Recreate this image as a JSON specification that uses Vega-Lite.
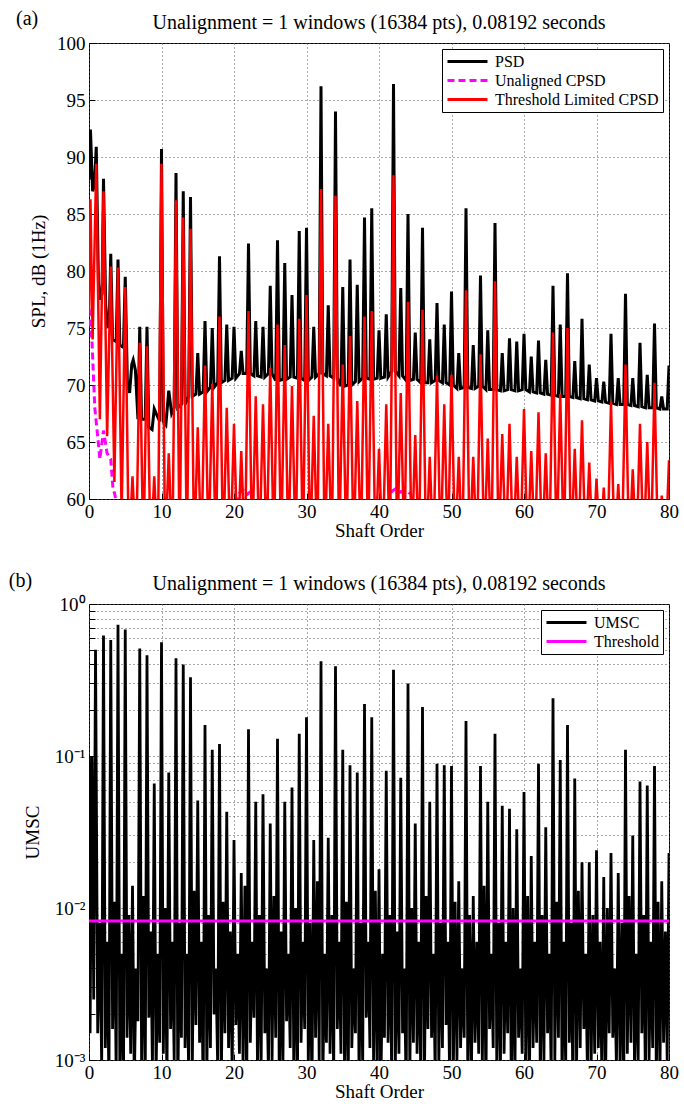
{
  "$schema": "https://vega.github.io/schema/vega-lite/v6.json",
  "background": "white",
  "padding": {"left": 8, "top": 8, "right": 5, "bottom": 2},
  "spacing": 29,
  "config": {
    "font": "Liberation Serif",
    "view": {"stroke": "black", "strokeWidth": 1},
    "title": {"font": "Liberation Serif", "fontSize": 20, "fontWeight": "normal", "color": "black"},
    "axis": {
      "labelFont": "Liberation Serif", "titleFont": "Liberation Serif",
      "labelFontSize": 19, "titleFontSize": 19, "titleFontWeight": "normal",
      "labelColor": "black", "titleColor": "black", "labelFlush": false,
      "domain": false, "tickColor": "black", "tickSize": -6, "labelPadding": 10,
      "grid": true, "gridDash": [1, 3], "gridColor": "#555", "gridWidth": 1
    },
    "axisX": {"labelPadding": 9, "titlePadding": 0},
    "legend": {"labelFont": "Liberation Serif", "labelColor": "black", "labelLimit": 400}
  },
  "resolve": {"scale": {"color": "independent"}, "legend": {"color": "independent"}},
  "datasets": {
    "psd": [
      {"x":0,"y":88},{"x":0.2,"y":92.4},{"x":0.5,"y":87},{"x":0.75,"y":87.5},{"x":1,"y":90.9},{"x":1.3,"y":79},{"x":1.55,"y":77.5},{"x":1.8,"y":78},{"x":2,"y":88.1},{"x":2.3,"y":77},{"x":2.6,"y":75},{"x":2.8,"y":75.5},{"x":3,"y":81.5},{"x":3.25,"y":74},{"x":3.75,"y":73.8},{"x":4,"y":81},{"x":4.25,"y":73.5},{"x":4.75,"y":73.3},{"x":5,"y":79.5},{"x":5.3,"y":70},{"x":5.6,"y":69.3},{"x":5.9,"y":71.8},{"x":6.1,"y":72.2},{"x":6.4,"y":71.3},{"x":6.75,"y":67},{"x":7,"y":75.1},{"x":7.25,"y":67},{"x":7.75,"y":67},{"x":8,"y":75.1},{"x":8.25,"y":66.3},{"x":8.7,"y":66.1},{"x":9,"y":67.9},{"x":9.4,"y":67.3},{"x":9.75,"y":66.8},{"x":10,"y":90.7},{"x":10.25,"y":66.8},{"x":10.6,"y":66.5},{"x":11,"y":69.5},{"x":11.4,"y":67.5},
      {"x":11.75,"y":68},{"x":12,"y":88.6},{"x":12.25,"y":68},
      {"x":12.75,"y":68.3},{"x":13,"y":87},{"x":13.25,"y":68.3},
      {"x":13.75,"y":69},{"x":14,"y":86.5},{"x":14.25,"y":69},
      {"x":14.75,"y":69.2},{"x":15,"y":72.8},{"x":15.25,"y":69.2},
      {"x":15.75,"y":69.4},{"x":16,"y":75.6},{"x":16.25,"y":69.4},
      {"x":16.75,"y":69.8},{"x":17,"y":75},{"x":17.25,"y":69.8},
      {"x":17.75,"y":70.2},{"x":18,"y":81.3},{"x":18.25,"y":70.2},
      {"x":18.75,"y":70.4},{"x":19,"y":75.3},{"x":19.25,"y":70.4},
      {"x":19.75,"y":70.6},{"x":20,"y":75.1},{"x":20.25,"y":70.6},
      {"x":20.75,"y":71},{"x":21,"y":73},{"x":21.25,"y":71},
      {"x":21.75,"y":71},{"x":22,"y":82.4},{"x":22.25,"y":71},
      {"x":22.75,"y":70.8},{"x":23,"y":75.6},{"x":23.25,"y":70.8},
      {"x":23.75,"y":70.7},{"x":24,"y":75.1},{"x":24.25,"y":70.7},
      {"x":24.75,"y":71},{"x":25,"y":78.7},{"x":25.25,"y":71},
      {"x":25.75,"y":70.4},{"x":26,"y":82.7},{"x":26.25,"y":70.4},
      {"x":26.75,"y":70.5},{"x":27,"y":80.7},{"x":27.25,"y":70.5},
      {"x":27.75,"y":70.7},{"x":28,"y":77.9},{"x":28.25,"y":70.7},
      {"x":28.75,"y":70.6},{"x":29,"y":83.5},{"x":29.25,"y":70.6},
      {"x":29.75,"y":70.4},{"x":30,"y":83.8},{"x":30.25,"y":70.4},
      {"x":30.75,"y":70.7},{"x":31,"y":75.1},{"x":31.25,"y":70.7},
      {"x":31.75,"y":71},{"x":32,"y":96.2},{"x":32.25,"y":71},
      {"x":32.75,"y":70.8},{"x":33,"y":77},{"x":33.25,"y":70.8},
      {"x":33.75,"y":70.6},{"x":34,"y":94},{"x":34.25,"y":70.6},
      {"x":34.75,"y":69.9},{"x":35,"y":78.6},{"x":35.25,"y":69.9},
      {"x":35.75,"y":70},{"x":36,"y":81},{"x":36.25,"y":70},
      {"x":36.75,"y":70.3},{"x":37,"y":78.8},{"x":37.25,"y":70.3},
      {"x":37.75,"y":70.6},{"x":38,"y":84.7},{"x":38.25,"y":70.6},
      {"x":38.75,"y":70.5},{"x":39,"y":85.5},{"x":39.25,"y":70.5},
      {"x":39.75,"y":70.6},{"x":40,"y":74.8},{"x":40.25,"y":70.6},
      {"x":40.75,"y":70.7},{"x":41,"y":76.2},{"x":41.25,"y":70.7},
      {"x":41.75,"y":71.2},{"x":42,"y":96.4},{"x":42.25,"y":71.2},
      {"x":42.75,"y":70.8},{"x":43,"y":78.5},{"x":43.25,"y":70.8},
      {"x":43.75,"y":70.4},{"x":44,"y":85},{"x":44.25,"y":70.4},
      {"x":44.75,"y":70.5},{"x":45,"y":74.6},{"x":45.25,"y":70.5},
      {"x":45.75,"y":70.2},{"x":46,"y":83.8},{"x":46.25,"y":70.2},
      {"x":46.75,"y":70.2},{"x":47,"y":74},{"x":47.25,"y":70.2},
      {"x":47.75,"y":70.4},{"x":48,"y":77.2},{"x":48.25,"y":70.4},
      {"x":48.75,"y":70.2},{"x":49,"y":75.3},{"x":49.25,"y":70.2},
      {"x":49.75,"y":70},{"x":50,"y":78.2},{"x":50.25,"y":70},
      {"x":50.75,"y":69.7},{"x":51,"y":72.8},{"x":51.25,"y":69.7},
      {"x":51.75,"y":69.8},{"x":52,"y":85.5},{"x":52.25,"y":69.8},
      {"x":52.75,"y":69.7},{"x":53,"y":73.5},{"x":53.25,"y":69.7},
      {"x":53.75,"y":69.9},{"x":54,"y":79.6},{"x":54.25,"y":69.9},
      {"x":54.75,"y":69.6},{"x":55,"y":74.8},{"x":55.25,"y":69.6},
      {"x":55.75,"y":69.6},{"x":56,"y":84.2},{"x":56.25,"y":69.6},
      {"x":56.75,"y":69.5},{"x":57,"y":72.8},{"x":57.25,"y":69.5},
      {"x":57.75,"y":69.6},{"x":58,"y":74.1},{"x":58.25,"y":69.6},
      {"x":58.75,"y":69.5},{"x":59,"y":73.8},{"x":59.25,"y":69.5},
      {"x":59.75,"y":69.6},{"x":60,"y":74.5},{"x":60.25,"y":69.6},
      {"x":60.75,"y":69.4},{"x":61,"y":72.5},{"x":61.25,"y":69.4},
      {"x":61.75,"y":69.3},{"x":62,"y":73.9},{"x":62.25,"y":69.3},
      {"x":62.75,"y":69.2},{"x":63,"y":72.2},{"x":63.25,"y":69.2},
      {"x":63.75,"y":69.1},{"x":64,"y":78.7},{"x":64.25,"y":69.1},
      {"x":64.75,"y":69},{"x":65,"y":75.3},{"x":65.25,"y":69},
      {"x":65.75,"y":69},{"x":66,"y":79.8},{"x":66.25,"y":69},
      {"x":66.75,"y":68.9},{"x":67,"y":72.1},{"x":67.25,"y":68.9},
      {"x":67.75,"y":68.8},{"x":68,"y":75.8},{"x":68.25,"y":68.8},
      {"x":68.75,"y":68.7},{"x":69,"y":71.8},{"x":69.25,"y":68.7},
      {"x":69.75,"y":68.6},{"x":70,"y":70.6},{"x":70.25,"y":68.6},
      {"x":70.75,"y":68.5},{"x":71,"y":70.3},{"x":71.25,"y":68.5},
      {"x":71.75,"y":68.4},{"x":72,"y":74.5},{"x":72.25,"y":68.4},
      {"x":72.75,"y":68.3},{"x":73,"y":70.6},{"x":73.25,"y":68.3},
      {"x":73.75,"y":68.3},{"x":74,"y":78},{"x":74.25,"y":68.3},
      {"x":74.75,"y":68.2},{"x":75,"y":70.6},{"x":75.25,"y":68.2},
      {"x":75.75,"y":68.1},{"x":76,"y":73.7},{"x":76.25,"y":68.1},
      {"x":76.75,"y":68},{"x":77,"y":70.9},{"x":77.25,"y":68},
      {"x":77.75,"y":68},{"x":78,"y":75.4},{"x":78.25,"y":68},
      {"x":78.75,"y":67.9},{"x":79,"y":69},{"x":79.25,"y":67.9},
      {"x":79.75,"y":67.9},{"x":80,"y":71.7}
    ],
    "ucpsd": [
      {"x":0,"y":76.7},{"x":0.4,"y":74},{"x":0.8,"y":68},{"x":1.2,"y":65.5},{"x":1.5,"y":63.5},{"x":2,"y":66},{"x":2.5,"y":64},{"x":3,"y":63.5},{"x":3.3,"y":61},{"x":3.6,"y":60.3},{"x":4,"y":57},
      {"x":20,"y":57},{"x":20.6,"y":60.4},{"x":21.2,"y":60.8},{"x":21.8,"y":60.4},{"x":22.4,"y":60.7},{"x":23,"y":57},
      {"x":41,"y":57},{"x":41.6,"y":60.6},{"x":42.3,"y":60.9},{"x":43,"y":60.6},{"x":43.7,"y":60.8},{"x":44.4,"y":60.4},{"x":45,"y":57},{"x":80,"y":57}
    ],
    "cpsd": [
      {"x":0,"y":76},{"x":0.2,"y":86.3},{"x":0.5,"y":74},{"x":1,"y":89.4},{"x":1.5,"y":67},{"x":2,"y":87},{"x":2.5,"y":65.5},{"x":3,"y":80.4},{"x":3.5,"y":61.5},{"x":4,"y":80.3},{"x":4.5,"y":58.5},{"x":5,"y":78.6},{"x":5.5,"y":55},
      {"x":6,"y":62},{"x":6.5,"y":55},{"x":7,"y":73.7},{"x":7.5,"y":55},{"x":8,"y":73.4},{"x":8.5,"y":55},{"x":9,"y":62},{"x":9.5,"y":55},
      {"x":10,"y":89.4},{"x":10.5,"y":55},{"x":11,"y":64},{"x":11.5,"y":55},{"x":12,"y":86.2},{"x":12.5,"y":55},{"x":13,"y":84.7},{"x":13.5,"y":55},{"x":14,"y":83.7},{"x":14.5,"y":55},
      {"x":15,"y":66.3},{"x":15.5,"y":55},{"x":16,"y":71.7},{"x":16.5,"y":55},{"x":17,"y":70.1},{"x":17.5,"y":55},{"x":18,"y":76},{"x":18.5,"y":55},{"x":19,"y":68},{"x":19.5,"y":55},
      {"x":20,"y":66.6},{"x":20.5,"y":55},{"x":21,"y":64.2},{"x":21.5,"y":55},{"x":22,"y":76.5},{"x":22.5,"y":55},{"x":23,"y":69},{"x":23.5,"y":55},{"x":24,"y":68.3},{"x":24.5,"y":55},
      {"x":25,"y":71.5},{"x":25.5,"y":55},{"x":26,"y":75.3},{"x":26.5,"y":55},{"x":27,"y":73.5},{"x":27.5,"y":55},{"x":28,"y":69.9},{"x":28.5,"y":55},{"x":29,"y":75.8},{"x":29.5,"y":55},
      {"x":30,"y":77.9},{"x":30.5,"y":55},{"x":31,"y":67.3},{"x":31.5,"y":55},{"x":32,"y":87.2},{"x":32.5,"y":55},{"x":33,"y":66.6},{"x":33.5,"y":55},{"x":34,"y":86.6},{"x":34.5,"y":55},
      {"x":35,"y":71.8},{"x":35.5,"y":55},{"x":36,"y":74.3},{"x":36.5,"y":55},{"x":37,"y":68.6},{"x":37.5,"y":55},{"x":38,"y":76},{"x":38.5,"y":55},{"x":39,"y":76.5},{"x":39.5,"y":55},
      {"x":40,"y":64.4},{"x":40.5,"y":55},{"x":41,"y":68.3},{"x":41.5,"y":55},{"x":42,"y":88.4},{"x":42.5,"y":55},{"x":43,"y":69.3},{"x":43.5,"y":55},{"x":44,"y":77.3},{"x":44.5,"y":55},
      {"x":45,"y":65.6},{"x":45.5,"y":55},{"x":46,"y":76.6},{"x":46.5,"y":55},{"x":47,"y":63.7},{"x":47.5,"y":55},{"x":48,"y":70.8},{"x":48.5,"y":55},{"x":49,"y":68.3},{"x":49.5,"y":55},
      {"x":50,"y":70.9},{"x":50.5,"y":55},{"x":51,"y":63.7},{"x":51.5,"y":55},{"x":52,"y":78.3},{"x":52.5,"y":55},{"x":53,"y":63.7},{"x":53.5,"y":55},{"x":54,"y":72.7},{"x":54.5,"y":55},
      {"x":55,"y":65.3},{"x":55.5,"y":55},{"x":56,"y":79.1},{"x":56.5,"y":55},{"x":57,"y":65.7},{"x":57.5,"y":55},{"x":58,"y":66.6},{"x":58.5,"y":55},{"x":59,"y":63.7},{"x":59.5,"y":55},
      {"x":60,"y":67.9},{"x":60.5,"y":55},{"x":61,"y":64.2},{"x":61.5,"y":55},{"x":62,"y":67.6},{"x":62.5,"y":55},{"x":63,"y":64},{"x":63.5,"y":55},{"x":64,"y":74.6},{"x":64.5,"y":55},
      {"x":65,"y":69.2},{"x":65.5,"y":55},{"x":66,"y":75},{"x":66.5,"y":55},{"x":67,"y":64.4},{"x":67.5,"y":55},{"x":68,"y":66.9},{"x":68.5,"y":55},{"x":69,"y":63.2},{"x":69.5,"y":55},
      {"x":70,"y":61.8},{"x":70.5,"y":55},{"x":71,"y":61},{"x":71.5,"y":55},{"x":72,"y":68.5},{"x":72.5,"y":55},{"x":73,"y":61.3},{"x":73.5,"y":55},{"x":74,"y":71.8},{"x":74.5,"y":55},
      {"x":75,"y":62.6},{"x":75.5,"y":55},{"x":76,"y":66.6},{"x":76.5,"y":55},{"x":77,"y":65},{"x":77.5,"y":55},{"x":78,"y":70.2},{"x":78.5,"y":55},{"x":79,"y":60.3},{"x":79.5,"y":55},{"x":80,"y":63.4}
    ],
    "umsc": [
      {"x":0,"y":0.1},{"x":0.15,"y":0.0015},{"x":0.4,"y":0.1},{"x":0.65,"y":0.0025},{"x":0.9,"y":0.5},{"x":1.2,"y":0.0015},{"x":1.5,"y":0.008},{"x":1.75,"y":0.0009},
      {"x":2,"y":0.62},{"x":2.25,"y":0.0012},{"x":2.5,"y":0.006},{"x":2.75,"y":0.0007},
      {"x":3,"y":0.58},{"x":3.25,"y":0.0016},{"x":3.5,"y":0.011},{"x":3.75,"y":0.0008},
      {"x":4,"y":0.73},{"x":4.25,"y":0.0009},{"x":4.5,"y":0.005},{"x":4.75,"y":0.0006},
      {"x":5,"y":0.68},{"x":5.25,"y":0.0014},{"x":5.5,"y":0.009},{"x":5.75,"y":0.0011},
      {"x":6,"y":0.014},{"x":6.25,"y":0.0007},{"x":6.5,"y":0.004},{"x":6.75,"y":0.0018},
      {"x":7,"y":0.51},{"x":7.25,"y":0.001},{"x":7.5,"y":0.012},{"x":7.75,"y":0.0006},
      {"x":8,"y":0.46},{"x":8.25,"y":0.0019},{"x":8.5,"y":0.007},{"x":8.75,"y":0.0009},
      {"x":9,"y":0.066},{"x":9.25,"y":0.0008},{"x":9.5,"y":0.005},{"x":9.75,"y":0.0013},
      {"x":10,"y":0.56},{"x":10.25,"y":0.0011},{"x":10.5,"y":0.01},{"x":10.75,"y":0.0007},
      {"x":11,"y":0.078},{"x":11.25,"y":0.0016},{"x":11.5,"y":0.006},{"x":11.75,"y":0.001},
      {"x":12,"y":0.44},{"x":12.25,"y":0.0006},{"x":12.5,"y":0.008},{"x":12.75,"y":0.0014},
      {"x":13,"y":0.4},{"x":13.25,"y":0.0012},{"x":13.5,"y":0.005},{"x":13.75,"y":0.0008},
      {"x":14,"y":0.33},{"x":14.25,"y":0.0009},{"x":14.5,"y":0.013},{"x":14.75,"y":0.0017},
      {"x":15,"y":0.051},{"x":15.25,"y":0.0013},{"x":15.5,"y":0.006},{"x":15.75,"y":0.0006},
      {"x":16,"y":0.16},{"x":16.25,"y":0.0008},{"x":16.5,"y":0.009},{"x":16.75,"y":0.0012},
      {"x":17,"y":0.11},{"x":17.25,"y":0.002},{"x":17.5,"y":0.004},{"x":17.75,"y":0.0009},
      {"x":18,"y":0.12},{"x":18.25,"y":0.0007},{"x":18.5,"y":0.011},{"x":18.75,"y":0.0015},
      {"x":19,"y":0.043},{"x":19.25,"y":0.0012},{"x":19.5,"y":0.007},{"x":19.75,"y":0.0008},
      {"x":20,"y":0.028},{"x":20.25,"y":0.0017},{"x":20.5,"y":0.005},{"x":20.75,"y":0.0011},
      {"x":21,"y":0.017},{"x":21.25,"y":0.0009},{"x":21.5,"y":0.014},{"x":21.75,"y":0.0006},
      {"x":22,"y":0.15},{"x":22.25,"y":0.0013},{"x":22.5,"y":0.006},{"x":22.75,"y":0.0019},
      {"x":23,"y":0.05},{"x":23.25,"y":0.0007},{"x":23.5,"y":0.009},{"x":23.75,"y":0.001},
      {"x":24,"y":0.056},{"x":24.25,"y":0.0015},{"x":24.5,"y":0.004},{"x":24.75,"y":0.0008},
      {"x":25,"y":0.036},{"x":25.25,"y":0.001},{"x":25.5,"y":0.012},{"x":25.75,"y":0.0014},
      {"x":26,"y":0.13},{"x":26.25,"y":0.0006},{"x":26.5,"y":0.007},{"x":26.75,"y":0.0009},
      {"x":27,"y":0.05},{"x":27.25,"y":0.0018},{"x":27.5,"y":0.005},{"x":27.75,"y":0.0012},
      {"x":28,"y":0.062},{"x":28.25,"y":0.0008},{"x":28.5,"y":0.01},{"x":28.75,"y":0.0007},
      {"x":29,"y":0.14},{"x":29.25,"y":0.0013},{"x":29.5,"y":0.006},{"x":29.75,"y":0.0016},
      {"x":30,"y":0.18},{"x":30.25,"y":0.0009},{"x":30.5,"y":0.008},{"x":30.75,"y":0.0006},
      {"x":31,"y":0.028},{"x":31.25,"y":0.0014},{"x":31.5,"y":0.015},{"x":31.75,"y":0.001},
      {"x":32,"y":0.42},{"x":32.25,"y":0.0007},{"x":32.5,"y":0.005},{"x":32.75,"y":0.0013},
      {"x":33,"y":0.029},{"x":33.25,"y":0.0011},{"x":33.5,"y":0.009},{"x":33.75,"y":0.0008},
      {"x":34,"y":0.39},{"x":34.25,"y":0.0016},{"x":34.5,"y":0.006},{"x":34.75,"y":0.0011},
      {"x":35,"y":0.11},{"x":35.25,"y":0.0008},{"x":35.5,"y":0.011},{"x":35.75,"y":0.0006},
      {"x":36,"y":0.087},{"x":36.25,"y":0.0012},{"x":36.5,"y":0.004},{"x":36.75,"y":0.0015},
      {"x":37,"y":0.078},{"x":37.25,"y":0.0007},{"x":37.5,"y":0.008},{"x":37.75,"y":0.0009},
      {"x":38,"y":0.22},{"x":38.25,"y":0.0019},{"x":38.5,"y":0.006},{"x":38.75,"y":0.0012},
      {"x":39,"y":0.18},{"x":39.25,"y":0.001},{"x":39.5,"y":0.013},{"x":39.75,"y":0.0007},
      {"x":40,"y":0.018},{"x":40.25,"y":0.0006},{"x":40.5,"y":0.005},{"x":40.75,"y":0.0014},
      {"x":41,"y":0.08},{"x":41.25,"y":0.0013},{"x":41.5,"y":0.009},{"x":41.75,"y":0.0008},
      {"x":42,"y":0.37},{"x":42.25,"y":0.0009},{"x":42.5,"y":0.007},{"x":42.75,"y":0.0011},
      {"x":43,"y":0.072},{"x":43.25,"y":0.0015},{"x":43.5,"y":0.004},{"x":43.75,"y":0.0006},
      {"x":44,"y":0.3},{"x":44.25,"y":0.0008},{"x":44.5,"y":0.01},{"x":44.75,"y":0.0013},
      {"x":45,"y":0.036},{"x":45.25,"y":0.0011},{"x":45.5,"y":0.006},{"x":45.75,"y":0.0009},
      {"x":46,"y":0.21},{"x":46.25,"y":0.0006},{"x":46.5,"y":0.012},{"x":46.75,"y":0.0016},
      {"x":47,"y":0.05},{"x":47.25,"y":0.0014},{"x":47.5,"y":0.005},{"x":47.75,"y":0.0008},
      {"x":48,"y":0.089},{"x":48.25,"y":0.0009},{"x":48.5,"y":0.008},{"x":48.75,"y":0.0012},
      {"x":49,"y":0.087},{"x":49.25,"y":0.0017},{"x":49.5,"y":0.006},{"x":49.75,"y":0.0007},
      {"x":50,"y":0.086},{"x":50.25,"y":0.0008},{"x":50.5,"y":0.011},{"x":50.75,"y":0.001},
      {"x":51,"y":0.015},{"x":51.25,"y":0.0012},{"x":51.5,"y":0.004},{"x":51.75,"y":0.0014},
      {"x":52,"y":0.17},{"x":52.25,"y":0.0007},{"x":52.5,"y":0.009},{"x":52.75,"y":0.0008},
      {"x":53,"y":0.012},{"x":53.25,"y":0.0013},{"x":53.5,"y":0.006},{"x":53.75,"y":0.0011},
      {"x":54,"y":0.086},{"x":54.25,"y":0.0009},{"x":54.5,"y":0.014},{"x":54.75,"y":0.0006},
      {"x":55,"y":0.05},{"x":55.25,"y":0.0016},{"x":55.5,"y":0.005},{"x":55.75,"y":0.0012},
      {"x":56,"y":0.14},{"x":56.25,"y":0.0008},{"x":56.5,"y":0.008},{"x":56.75,"y":0.0009},
      {"x":57,"y":0.047},{"x":57.25,"y":0.0011},{"x":57.5,"y":0.006},{"x":57.75,"y":0.0015},
      {"x":58,"y":0.045},{"x":58.25,"y":0.0006},{"x":58.5,"y":0.01},{"x":58.75,"y":0.0008},
      {"x":59,"y":0.033},{"x":59.25,"y":0.0014},{"x":59.5,"y":0.004},{"x":59.75,"y":0.0011},
      {"x":60,"y":0.058},{"x":60.25,"y":0.0009},{"x":60.5,"y":0.012},{"x":60.75,"y":0.0007},
      {"x":61,"y":0.022},{"x":61.25,"y":0.0012},{"x":61.5,"y":0.006},{"x":61.75,"y":0.0013},
      {"x":62,"y":0.089},{"x":62.25,"y":0.0007},{"x":62.5,"y":0.009},{"x":62.75,"y":0.001},
      {"x":63,"y":0.034},{"x":63.25,"y":0.0015},{"x":63.5,"y":0.005},{"x":63.75,"y":0.0008},
      {"x":64,"y":0.24},{"x":64.25,"y":0.001},{"x":64.5,"y":0.011},{"x":64.75,"y":0.0014},
      {"x":65,"y":0.094},{"x":65.25,"y":0.0007},{"x":65.5,"y":0.006},{"x":65.75,"y":0.0009},
      {"x":66,"y":0.16},{"x":66.25,"y":0.0013},{"x":66.5,"y":0.008},{"x":66.75,"y":0.0006},
      {"x":67,"y":0.071},{"x":67.25,"y":0.0009},{"x":67.5,"y":0.013},{"x":67.75,"y":0.0012},
      {"x":68,"y":0.02},{"x":68.25,"y":0.0016},{"x":68.5,"y":0.005},{"x":68.75,"y":0.0008},
      {"x":69,"y":0.02},{"x":69.25,"y":0.0008},{"x":69.5,"y":0.009},{"x":69.75,"y":0.0011},
      {"x":70,"y":0.024},{"x":70.25,"y":0.0012},{"x":70.5,"y":0.006},{"x":70.75,"y":0.0007},
      {"x":71,"y":0.016},{"x":71.25,"y":0.0007},{"x":71.5,"y":0.01},{"x":71.75,"y":0.0015},
      {"x":72,"y":0.023},{"x":72.25,"y":0.0014},{"x":72.5,"y":0.004},{"x":72.75,"y":0.0009},
      {"x":73,"y":0.017},{"x":73.25,"y":0.0009},{"x":73.5,"y":0.008},{"x":73.75,"y":0.0006},
      {"x":74,"y":0.11},{"x":74.25,"y":0.0011},{"x":74.5,"y":0.012},{"x":74.75,"y":0.0013},
      {"x":75,"y":0.03},{"x":75.25,"y":0.0008},{"x":75.5,"y":0.005},{"x":75.75,"y":0.001},
      {"x":76,"y":0.068},{"x":76.25,"y":0.0015},{"x":76.5,"y":0.009},{"x":76.75,"y":0.0007},
      {"x":77,"y":0.064},{"x":77.25,"y":0.001},{"x":77.5,"y":0.006},{"x":77.75,"y":0.0012},
      {"x":78,"y":0.086},{"x":78.25,"y":0.0007},{"x":78.5,"y":0.011},{"x":78.75,"y":0.0008},
      {"x":79,"y":0.015},{"x":79.25,"y":0.0013},{"x":79.5,"y":0.007},{"x":79.75,"y":0.001},
      {"x":80,"y":0.023}
    ],
    "thr": [{"x":0,"y":0.0082},{"x":80,"y":0.0082}]
  },
  "vconcat": [
    {
      "title": {"text": "(a)", "anchor": "start", "frame": "bounds", "dx": -13, "dy": 20},
      "resolve": {"scale": {"color": "independent"}, "legend": {"color": "independent"}},
      "vconcat": [
        {
          "title": {"text": "Unalignment = 1 windows (16384 pts), 0.08192 seconds", "anchor": "middle", "frame": "group", "offset": 1},
          "width": 580,
          "height": 456,
          "encoding": {
            "x": {"field": "x", "type": "quantitative", "scale": {"domain": [0, 80], "nice": false, "zero": false},
                  "axis": {"values": [0, 10, 20, 30, 40, 50, 60, 70, 80], "title": "Shaft Order"}},
            "y": {"field": "y", "type": "quantitative", "scale": {"domain": [60, 100], "nice": false, "zero": false},
                  "axis": {"values": [60, 65, 70, 75, 80, 85, 90, 95, 100], "title": "SPL, dB (1Hz)", "titlePadding": 8}}
          },
          "layer": [
            {
              "data": {"name": "psd"},
              "mark": {"type": "line", "strokeWidth": 3, "clip": true},
              "encoding": {
                "color": {"datum": "PSD", "type": "nominal",
                  "scale": {"domain": ["PSD", "Unaligned CPSD", "Threshold Limited CPSD"], "range": ["#000000", "#ff00ff", "#ff0000"]},
                  "legend": {"title": null, "orient": "top-right", "offset": 6, "strokeColor": "black", "fillColor": "white",
                    "padding": 4, "labelFontSize": 16, "symbolType": "stroke", "symbolStrokeWidth": 3, "symbolSize": 1600,
                    "clipHeight": 17, "rowPadding": 2, "labelOffset": 6,
                    "encode": {"symbols": {"update": {"strokeDash": {"signal": "datum.value === 'Unaligned CPSD' ? [7, 4] : [1, 0]"}}}}}
                }
              }
            },
            {
              "data": {"name": "ucpsd"},
              "mark": {"type": "line", "strokeWidth": 3, "strokeDash": [7, 4], "clip": true},
              "encoding": {"color": {"datum": "Unaligned CPSD", "type": "nominal"}}
            },
            {
              "data": {"name": "cpsd"},
              "mark": {"type": "line", "strokeWidth": 2.5, "clip": true},
              "encoding": {"color": {"datum": "Threshold Limited CPSD", "type": "nominal"}}
            }
          ]
        }
      ]
    },
    {
      "title": {"text": "(b)", "anchor": "start", "frame": "bounds", "dx": -14, "dy": 21},
      "resolve": {"scale": {"color": "independent"}, "legend": {"color": "independent"}},
      "vconcat": [
        {
          "title": {"text": "Unalignment = 1 windows (16384 pts), 0.08192 seconds", "anchor": "middle", "frame": "group", "offset": 1},
          "width": 580,
          "height": 456,
          "encoding": {
            "x": {"field": "x", "type": "quantitative", "scale": {"domain": [0, 80], "nice": false, "zero": false},
                  "axis": {"values": [0, 10, 20, 30, 40, 50, 60, 70, 80], "title": "Shaft Order"}},
            "y": {"field": "y", "type": "quantitative", "scale": {"type": "log", "domain": [0.001, 1], "nice": false},
                  "axis": {"values": [0.001, 0.002, 0.003, 0.004, 0.005, 0.006, 0.007, 0.008, 0.009, 0.01, 0.02, 0.03, 0.04, 0.05, 0.06, 0.07, 0.08, 0.09, 0.1, 0.2, 0.3, 0.4, 0.5, 0.6, 0.7, 0.8, 0.9, 1],
                           "labelExpr": "datum.value == 1 ? '10⁰' : datum.value == 0.1 ? '10⁻¹' : datum.value == 0.01 ? '10⁻²' : datum.value == 0.001 ? '10⁻³' : ''",
                           "labelOverlap": false, "title": "UMSC", "titlePadding": 12}}
          },
          "layer": [
            {
              "data": {"name": "umsc"},
              "mark": {"type": "line", "strokeWidth": 2.8, "clip": true},
              "encoding": {
                "color": {"datum": "UMSC", "type": "nominal",
                  "scale": {"domain": ["UMSC", "Threshold"], "range": ["#000000", "#ff00ff"]},
                  "legend": {"title": null, "orient": "top-right", "offset": 6, "strokeColor": "black", "fillColor": "white",
                    "padding": 4, "labelFontSize": 16, "symbolType": "stroke", "symbolStrokeWidth": 3, "symbolSize": 1600,
                    "clipHeight": 17, "rowPadding": 2, "labelOffset": 6}
                }
              }
            },
            {
              "data": {"name": "thr"},
              "mark": {"type": "line", "strokeWidth": 3, "clip": true},
              "encoding": {"color": {"datum": "Threshold", "type": "nominal"}}
            }
          ]
        }
      ]
    }
  ]
}
